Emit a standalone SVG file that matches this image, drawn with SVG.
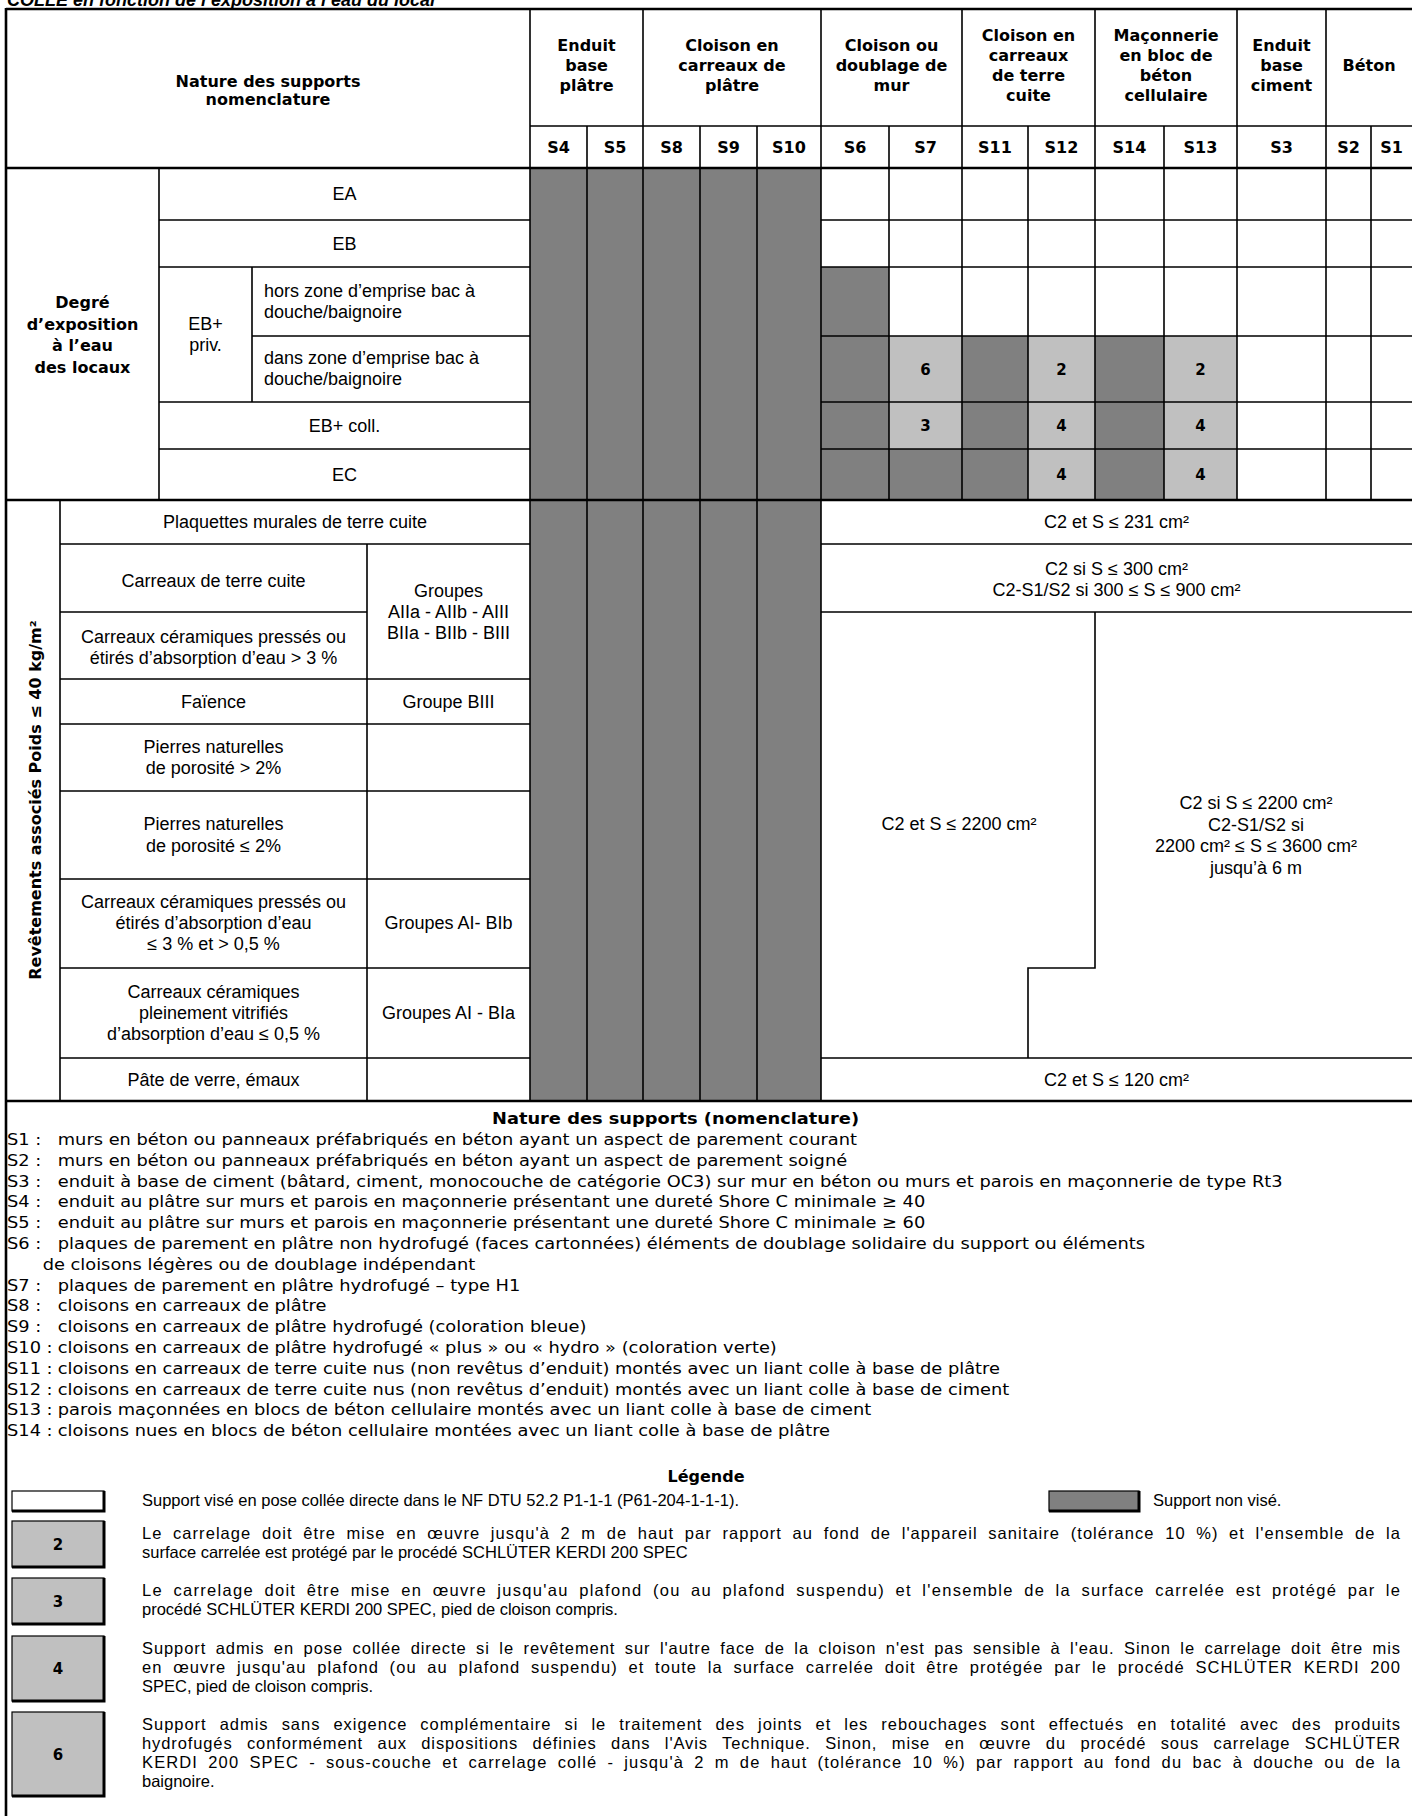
<svg xmlns="http://www.w3.org/2000/svg" width="1412" height="1816" viewBox="0 0 1412 1816">
<style>
.ln{stroke:#000;stroke-width:1.6;fill:none}
.tk{stroke:#000;stroke-width:2.6;fill:none}
.dk{fill:#808080}
.lt{fill:#c0c0c0}
.h{font-family:"DejaVu Sans",Verdana,sans-serif;font-weight:bold;font-size:16px;text-anchor:middle;fill:#000}
.b{font-family:"Liberation Sans",Arial,sans-serif;font-size:18px;fill:#000}
.c{text-anchor:middle}
.n{font-family:"DejaVu Sans",Verdana,sans-serif;font-size:16.5px;fill:#000}
.lg{font-family:"Liberation Sans",Arial,sans-serif;font-size:16.5px;fill:#000}
.num{font-family:"DejaVu Sans",Verdana,sans-serif;font-weight:bold;font-size:15px;text-anchor:middle;fill:#000}
.box{stroke:#000;stroke-width:1.2}
.sh{stroke:#000;stroke-width:3;fill:none}
</style>
<rect width="1412" height="1816" fill="#fff"/>
<text id="title" x="7" y="6" font-family="Liberation Sans, Arial, sans-serif" font-weight="bold" font-style="italic" font-size="18">COLLE en fonction de l’exposition à l’eau du local</text>

<g id="cells">
<rect class="dk" x="530" y="168" width="291" height="933"/>
<rect class="dk" x="821" y="267" width="68" height="233"/>
<rect class="dk" x="889" y="449" width="73" height="51"/>
<rect class="dk" x="962" y="336" width="66" height="164"/>
<rect class="dk" x="1095" y="336" width="69" height="164"/>
<rect class="lt" x="889" y="336" width="73" height="113"/>
<rect class="lt" x="1028" y="336" width="67" height="164"/>
<rect class="lt" x="1164" y="336" width="73" height="164"/>
</g>

<g id="grid">
<path class="ln" d="M530 126H1412 M530 9V168 M643 9V168 M821 9V168 M962 9V168 M1095 9V168 M1237 9V168 M1326 9V168 M587 126V168 M700 126V168 M757 126V168 M889 126V168 M1028 126V168 M1164 126V168 M1371 126V168"/>
<path class="ln" d="M159 168V500 M252 267V402 M530 168V1101 M587 168V1101 M643 168V1101 M700 168V1101 M757 168V1101 M821 168V1101 M889 168V500 M962 168V500 M1028 168V500 M1095 168V500 M1164 168V500 M1237 168V500 M1326 168V500 M1371 168V500"/>
<path class="ln" d="M159 220H530 M821 220H1412 M159 267H530 M821 267H1412 M252 336H530 M821 336H1412 M159 402H530 M821 402H1412 M159 449H530 M821 449H1412"/>
<path class="ln" d="M60 500V1101 M367 544V1101 M60 544H530 M821 544H1412 M60 612H367 M821 612H1412 M60 679H530 M60 724H530 M60 791H530 M60 879H530 M60 968H530 M60 1058H530 M821 1058H1412 M1095 612V968H1028V1058"/>
<path class="tk" d="M6 9H1412 M6 168H1412 M6 500H1412 M6 1101H1412 M6 8V1816"/>
</g>

<g id="header">
<text class="h" x="268" y="87">Nature des supports</text>
<text class="h" x="268" y="105">nomenclature</text>
<text class="h" x="586.5" y="50.5">Enduit</text><text class="h" x="586.5" y="70.5">base</text><text class="h" x="586.5" y="90.5">plâtre</text>
<text class="h" x="732" y="50.5">Cloison en</text><text class="h" x="732" y="70.5">carreaux de</text><text class="h" x="732" y="90.5">plâtre</text>
<text class="h" x="891.5" y="50.5">Cloison ou</text><text class="h" x="891.5" y="70.5">doublage de</text><text class="h" x="891.5" y="90.5">mur</text>
<text class="h" x="1028.5" y="40.5">Cloison en</text><text class="h" x="1028.5" y="60.5">carreaux</text><text class="h" x="1028.5" y="80.5">de terre</text><text class="h" x="1028.5" y="100.5">cuite</text>
<text class="h" x="1166" y="40.5">Maçonnerie</text><text class="h" x="1166" y="60.5">en bloc de</text><text class="h" x="1166" y="80.5">béton</text><text class="h" x="1166" y="100.5">cellulaire</text>
<text class="h" x="1281.5" y="50.5">Enduit</text><text class="h" x="1281.5" y="70.5">base</text><text class="h" x="1281.5" y="90.5">ciment</text>
<text class="h" x="1369" y="70.5">Béton</text>
<text class="h" x="558.5" y="153">S4</text><text class="h" x="615" y="153">S5</text><text class="h" x="671.5" y="153">S8</text><text class="h" x="728.5" y="153">S9</text><text class="h" x="789" y="153">S10</text>
<text class="h" x="855" y="153">S6</text><text class="h" x="925.5" y="153">S7</text><text class="h" x="995" y="153">S11</text><text class="h" x="1061.5" y="153">S12</text><text class="h" x="1129.5" y="153">S14</text><text class="h" x="1200.5" y="153">S13</text><text class="h" x="1281.5" y="153">S3</text><text class="h" x="1348.5" y="153">S2</text><text class="h" x="1391.5" y="153">S1</text>
</g>

<g id="exposure">
<text class="h" x="82.5" y="308" font-size="17.5">Degré</text>
<text class="h" x="82.5" y="329.5" font-size="17.5">d’exposition</text>
<text class="h" x="82.5" y="351" font-size="17.5">à l’eau</text>
<text class="h" x="82.5" y="372.5" font-size="17.5">des locaux</text>
<text class="b c" x="205.5" y="330">EB+</text>
<text class="b c" x="205.5" y="351">priv.</text>
<text class="b c" x="344.5" y="200">EA</text>
<text class="b c" x="344.5" y="250">EB</text>
<text class="b" x="264" y="297">hors zone d’emprise bac à</text>
<text class="b" x="264" y="318">douche/baignoire</text>
<text class="b" x="264" y="364">dans zone d’emprise bac à</text>
<text class="b" x="264" y="385">douche/baignoire</text>
<text class="b c" x="344.5" y="432">EB+ coll.</text>
<text class="b c" x="344.5" y="481">EC</text>
<text class="num" x="925.5" y="375">6</text>
<text class="num" x="1061.5" y="375">2</text>
<text class="num" x="1200.5" y="375">2</text>
<text class="num" x="925.5" y="431">3</text>
<text class="num" x="1061.5" y="431">4</text>
<text class="num" x="1200.5" y="431">4</text>
<text class="num" x="1061.5" y="480">4</text>
<text class="num" x="1200.5" y="480">4</text>
</g>

<g id="coverings">
<text class="h" transform="translate(40.5 800) rotate(-90)" font-size="18.5">Revêtements associés Poids ≤ 40 kg/m²</text>
<text class="b c" x="295" y="528">Plaquettes murales de terre cuite</text>
<text class="b c" x="213.5" y="587">Carreaux de terre cuite</text>
<text class="b c" x="213.5" y="643">Carreaux céramiques pressés ou</text>
<text class="b c" x="213.5" y="664">étirés d’absorption d’eau &gt; 3 %</text>
<text class="b c" x="448.5" y="597">Groupes</text>
<text class="b c" x="448.5" y="618">AIIa - AIIb - AIII</text>
<text class="b c" x="448.5" y="639">BIIa - BIIb - BIII</text>
<text class="b c" x="213.5" y="708">Faïence</text>
<text class="b c" x="448.5" y="708">Groupe BIII</text>
<text class="b c" x="213.5" y="753">Pierres naturelles</text>
<text class="b c" x="213.5" y="774">de porosité &gt; 2%</text>
<text class="b c" x="213.5" y="830">Pierres naturelles</text>
<text class="b c" x="213.5" y="852">de porosité ≤ 2%</text>
<text class="b c" x="213.5" y="908">Carreaux céramiques pressés ou</text>
<text class="b c" x="213.5" y="929">étirés d’absorption d’eau</text>
<text class="b c" x="213.5" y="950">≤ 3 % et &gt; 0,5 %</text>
<text class="b c" x="448.5" y="929">Groupes AI- BIb</text>
<text class="b c" x="213.5" y="998">Carreaux céramiques</text>
<text class="b c" x="213.5" y="1019">pleinement vitrifiés</text>
<text class="b c" x="213.5" y="1040">d’absorption  d’eau ≤ 0,5 %</text>
<text class="b c" x="448.5" y="1019">Groupes AI - BIa</text>
<text class="b c" x="213.5" y="1086">Pâte de verre, émaux</text>
<text class="b c" x="1116.5" y="528">C2 et S ≤ 231 cm²</text>
<text class="b c" x="1116.5" y="575">C2 si S ≤ 300 cm²</text>
<text class="b c" x="1116.5" y="596">C2-S1/S2 si 300 ≤ S ≤ 900 cm²</text>
<text class="b c" x="959" y="830">C2 et S ≤ 2200 cm²</text>
<text class="b c" x="1256" y="809">C2 si S ≤ 2200 cm²</text>
<text class="b c" x="1256" y="830.5">C2-S1/S2 si</text>
<text class="b c" x="1256" y="852">2200 cm² ≤ S ≤ 3600 cm²</text>
<text class="b c" x="1256" y="873.5">jusqu’à 6 m</text>
<text class="b c" x="1116.5" y="1086">C2 et S ≤ 120 cm²</text>
</g>

<g id="nomenclature" transform="translate(7 0) scale(1.08 1)">
<text class="n" x="619" y="1124" font-weight="bold" text-anchor="middle">Nature des supports (nomenclature)</text>
<text class="n" x="0" y="1145">S1 :</text><text class="n" x="47" y="1145">murs en béton ou panneaux préfabriqués en béton ayant un aspect de parement courant</text>
<text class="n" x="0" y="1166">S2 :</text><text class="n" x="47" y="1166">murs en béton ou panneaux préfabriqués en béton ayant un aspect de parement soigné</text>
<text class="n" x="0" y="1187">S3 :</text><text class="n" x="47" y="1187">enduit à base de ciment (bâtard, ciment, monocouche de catégorie OC3) sur mur en béton ou murs et parois en maçonnerie de type Rt3</text>
<text class="n" x="0" y="1207">S4 :</text><text class="n" x="47" y="1207">enduit au plâtre sur murs et parois en maçonnerie présentant une dureté Shore C minimale ≥ 40</text>
<text class="n" x="0" y="1228">S5 :</text><text class="n" x="47" y="1228">enduit au plâtre sur murs et parois en maçonnerie présentant une dureté Shore C minimale ≥ 60</text>
<text class="n" x="0" y="1249">S6 :</text><text class="n" x="47" y="1249">plaques de parement en plâtre non hydrofugé (faces cartonnées) éléments de doublage solidaire du support ou éléments</text>
<text class="n" x="33" y="1270">de cloisons légères ou de doublage indépendant</text>
<text class="n" x="0" y="1291">S7 :</text><text class="n" x="47" y="1291">plaques de parement en plâtre hydrofugé – type H1</text>
<text class="n" x="0" y="1311">S8 :</text><text class="n" x="47" y="1311">cloisons en carreaux de plâtre</text>
<text class="n" x="0" y="1332">S9 :</text><text class="n" x="47" y="1332">cloisons en carreaux de plâtre hydrofugé (coloration bleue)</text>
<text class="n" x="0" y="1353">S10 :</text><text class="n" x="47" y="1353">cloisons en carreaux de plâtre hydrofugé « plus » ou « hydro » (coloration verte)</text>
<text class="n" x="0" y="1374">S11 :</text><text class="n" x="47" y="1374">cloisons en carreaux de terre cuite nus (non revêtus d’enduit) montés avec un liant colle à base de plâtre</text>
<text class="n" x="0" y="1395">S12 :</text><text class="n" x="47" y="1395">cloisons en carreaux de terre cuite nus (non revêtus d’enduit) montés avec un liant colle à base de ciment</text>
<text class="n" x="0" y="1415">S13 :</text><text class="n" x="47" y="1415">parois maçonnées en blocs de béton cellulaire montés avec un liant colle à base de ciment</text>
<text class="n" x="0" y="1436">S14 :</text><text class="n" x="47" y="1436">cloisons nues en blocs de béton cellulaire montées avec un liant colle à base de plâtre</text>
</g>

<g id="legend">
<text class="h" x="706" y="1482" font-size="17">Légende</text>
<g id="leg-white"><rect class="box" x="12" y="1491" width="92" height="20" fill="#fff"/><path class="sh" d="M12 1511H104V1491"/>
<text class="lg" x="142" y="1506">Support visé en pose collée directe dans le NF DTU 52.2 P1-1-1 (P61-204-1-1-1).</text></g>
<g id="leg-dark"><rect class="box" x="1049" y="1491" width="90" height="20" fill="#808080"/><path class="sh" d="M1049 1511H1139V1491"/>
<text class="lg" x="1153" y="1506">Support non visé.</text></g>
<g id="leg-2"><rect class="box lt" x="12" y="1521" width="92" height="46"/><path class="sh" d="M12 1567H104V1521"/>
<text class="num" x="58" y="1550">2</text>
<text class="lg" x="142" y="1539" word-spacing="5" textLength="1258" lengthAdjust="spacing">Le carrelage doit être mise en œuvre jusqu'à 2 m de haut par rapport au fond de l'appareil sanitaire (tolérance 10 %) et l'ensemble de la</text>
<text class="lg" x="142" y="1558">surface carrelée est protégé par le procédé SCHLÜTER KERDI 200 SPEC</text></g>
<g id="leg-3"><rect class="box lt" x="12" y="1578" width="92" height="46"/><path class="sh" d="M12 1624H104V1578"/>
<text class="num" x="58" y="1607">3</text>
<text class="lg" x="142" y="1596" word-spacing="4.5" textLength="1258" lengthAdjust="spacing">Le carrelage doit être mise en œuvre jusqu'au plafond (ou au plafond suspendu) et l'ensemble de la surface carrelée est protégé par le</text>
<text class="lg" x="142" y="1615">procédé SCHLÜTER KERDI 200 SPEC, pied de cloison compris.</text></g>
<g id="leg-4"><rect class="box lt" x="12" y="1636" width="92" height="65"/><path class="sh" d="M12 1701H104V1636"/>
<text class="num" x="58" y="1674">4</text>
<text class="lg" x="142" y="1654" word-spacing="4" textLength="1258" lengthAdjust="spacing">Support admis en pose collée directe si le revêtement sur l'autre face de la cloison n'est pas sensible à l'eau. Sinon le carrelage doit être mis</text>
<text class="lg" x="142" y="1673" word-spacing="5" textLength="1258" lengthAdjust="spacing">en œuvre jusqu'au plafond (ou au plafond suspendu) et toute la surface carrelée doit être protégée par le procédé SCHLÜTER KERDI 200</text>
<text class="lg" x="142" y="1692">SPEC, pied de cloison compris.</text></g>
<g id="leg-6"><rect class="box lt" x="12" y="1712" width="92" height="84"/><path class="sh" d="M12 1796H104V1712"/>
<text class="num" x="58" y="1760">6</text>
<text class="lg" x="142" y="1730" word-spacing="7.5" textLength="1258" lengthAdjust="spacing">Support admis sans exigence complémentaire si le traitement des joints et les rebouchages sont effectués en totalité avec des produits</text>
<text class="lg" x="142" y="1749" word-spacing="9" textLength="1258" lengthAdjust="spacing">hydrofugés conformément aux dispositions définies dans l'Avis Technique. Sinon, mise en œuvre du procédé sous carrelage SCHLÜTER</text>
<text class="lg" x="142" y="1768" word-spacing="4.5" textLength="1258" lengthAdjust="spacing">KERDI 200 SPEC - sous-couche et carrelage collé - jusqu'à 2 m de haut (tolérance 10 %) par rapport au fond du bac à douche ou de la</text>
<text class="lg" x="142" y="1787">baignoire.</text></g>
</g>
</svg>
